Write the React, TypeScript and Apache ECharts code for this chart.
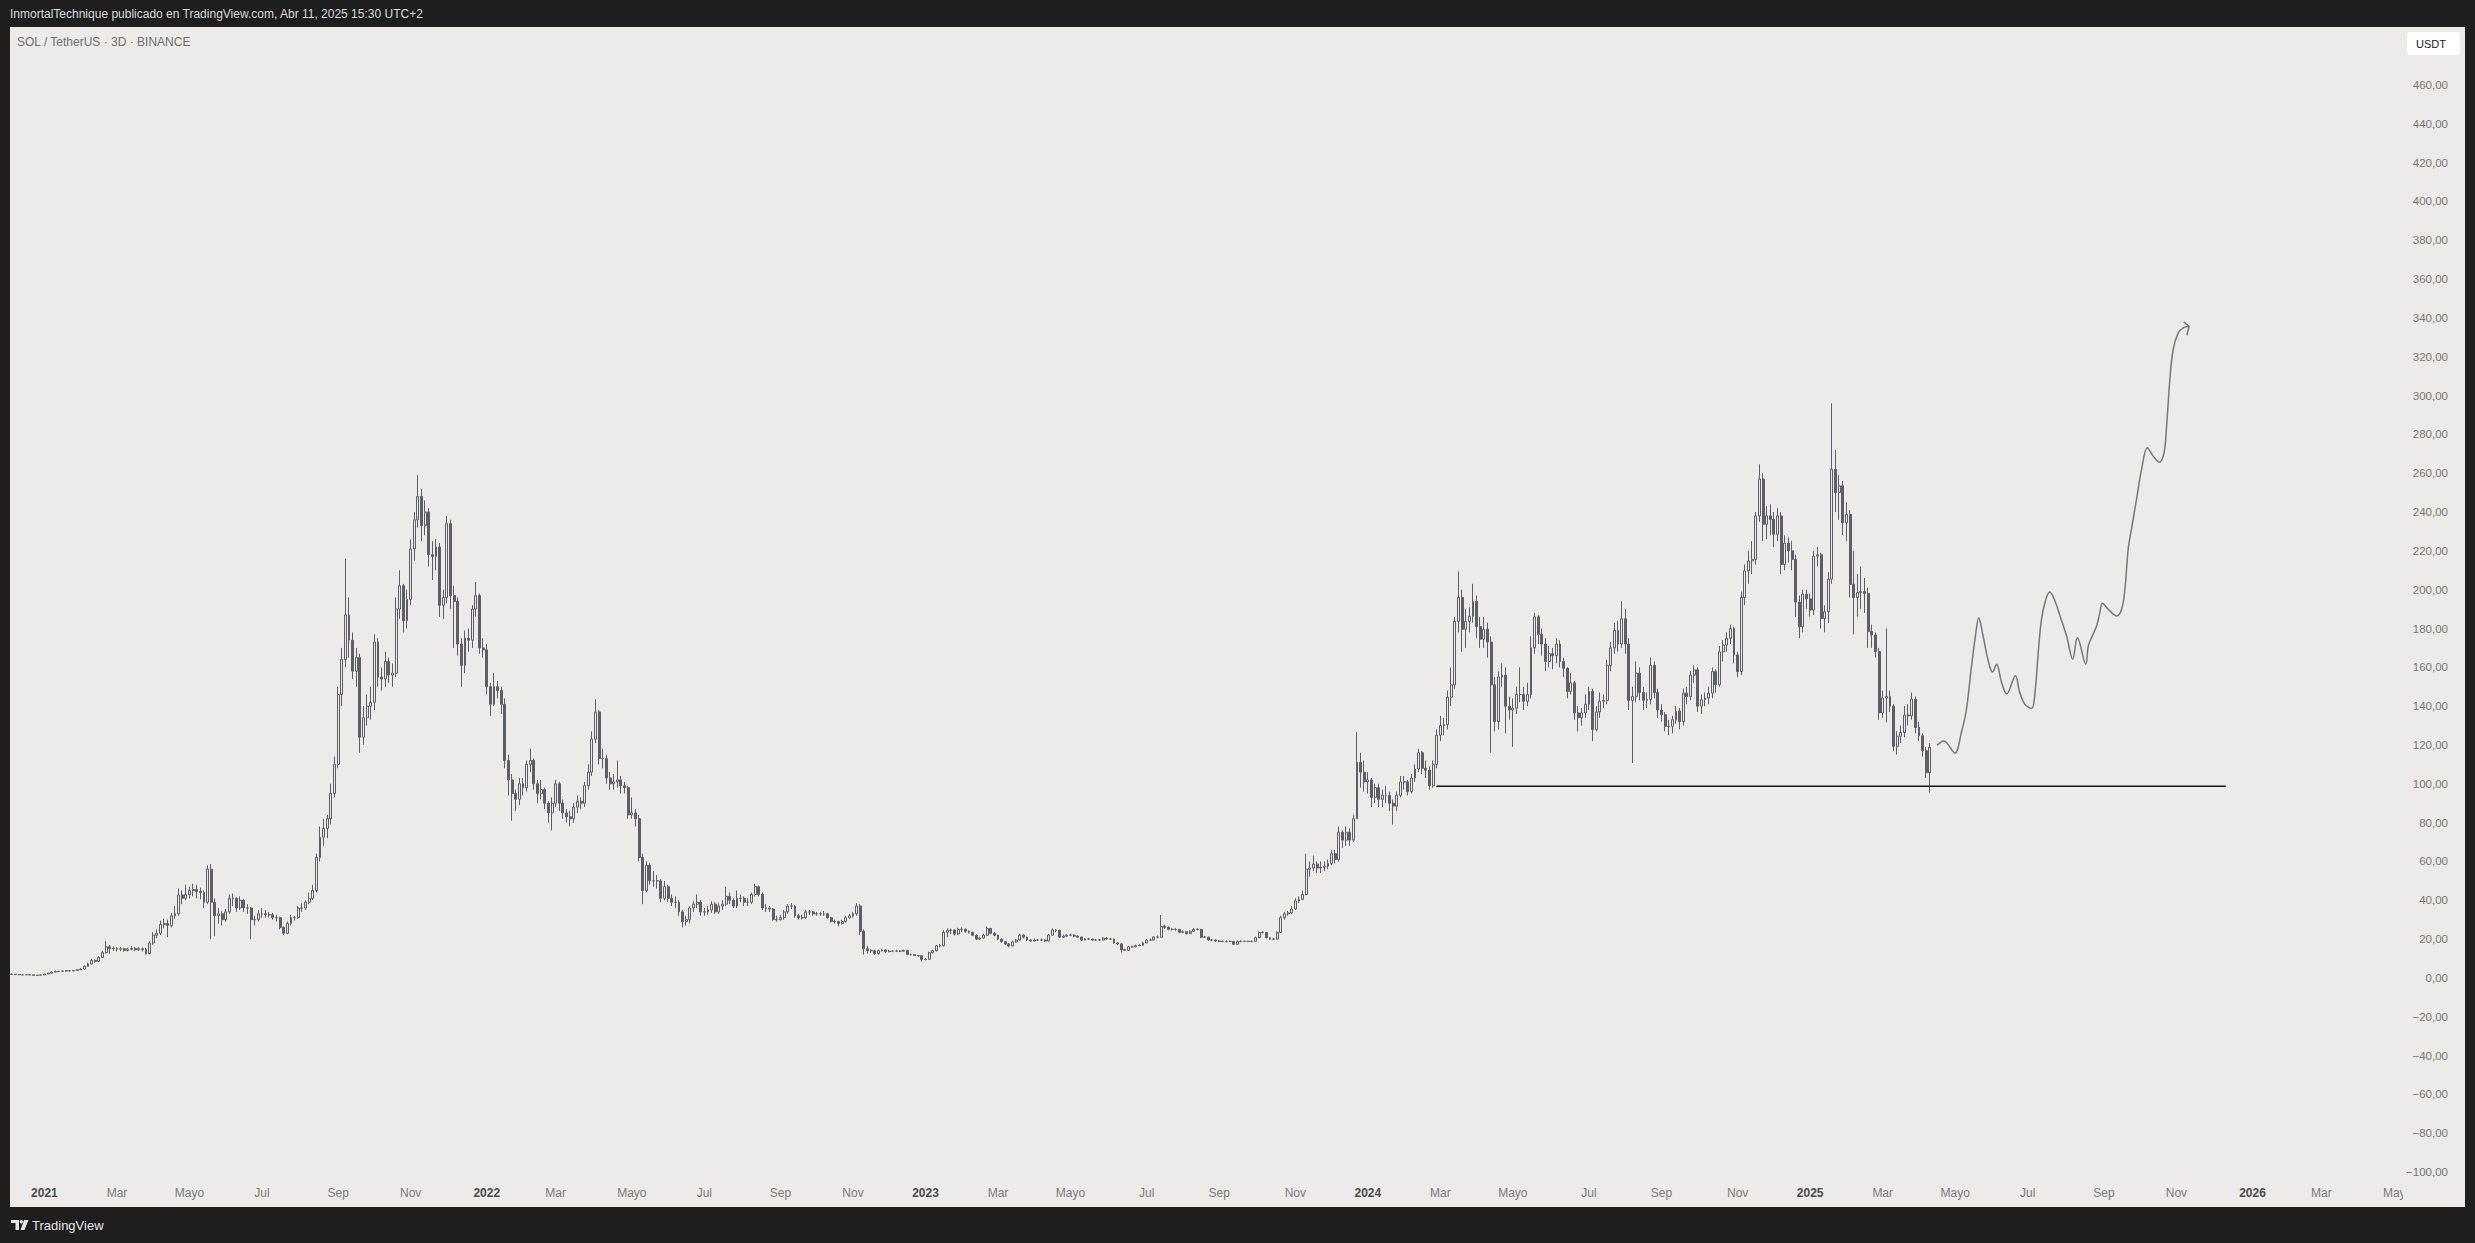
import React, { useEffect, useRef } from 'react';
import * as echarts from 'echarts';

const W = 2475;
const H = 1243;
const PANEL = '#ECEBE9';
const DARK = '#1E1E1E';
const CANDLE = '#5D5E66';
const FONT = '"Liberation Sans", Arial, sans-serif';

// 3-day candles, first one starting 2020-12-04
const START = Date.UTC(2020, 11, 4);
const STEP_DAYS = 3;
const CATEGORY_COUNT = 660;
const FIRST_OPEN = 2.0;

const closes = [
  1.9, 1.7, 1.6, 1.6, 1.65, 1.55, 1.3, 1.4, 1.5, 2.0,
  2.4, 3.0, 3.3, 3.4, 3.5, 3.7, 3.6, 3.8, 4.2, 4.5,
  6.0, 7.2, 9.0, 8.5, 10.5, 13.0, 16.0, 15.0, 15.2, 14.8,
  15.0, 14.2, 14.8, 15.2, 14.5, 15.0, 14.6, 12.5, 18.0, 22.0,
  23.0, 27.5, 28.0, 27.0, 32.0, 33.0, 42.7, 41.0, 43.0, 45.0,
  45.5, 44.5, 44.0, 39.0, 56.0, 39.0, 32.0, 33.0, 30.0, 34.0,
  41.0, 41.0, 36.0, 40.0, 36.0, 36.0, 30.0, 30.0, 33.0, 33.0,
  32.5, 32.5, 31.0, 31.0, 26.0, 23.0, 28.0, 31.0, 31.0, 36.0,
  36.0, 39.0, 41.0, 45.0, 62.0, 72.5, 77.0, 82.0, 95.0, 110.0,
  146, 164, 187, 174, 158, 165, 124, 134, 140, 142,
  173, 155, 154, 163, 156, 157, 190, 202, 184, 195,
  221, 236, 248, 233, 240, 218, 217, 222, 192, 196,
  234, 197, 194, 172, 161, 175, 174, 190, 197, 170,
  169, 150, 141, 150, 148, 141, 112, 102, 95, 92,
  100, 98, 110, 112, 100, 95, 97, 90, 85, 90,
  100, 90, 85, 83, 82, 88, 91, 90, 99, 106,
  123, 137, 113, 113, 103, 100, 101, 102, 99, 98,
  84, 85, 82, 62, 45, 58, 50, 50, 50, 41,
  47, 41, 39, 39, 34, 29, 30, 36, 38, 39,
  34, 34, 35, 38, 34, 37, 38, 42, 40, 37,
  41, 41, 39, 39, 43, 47, 43, 36, 36, 35.5,
  30, 30, 31, 34, 37, 37, 32, 31, 31, 34,
  34, 33, 33, 33, 33, 31, 29, 29, 28, 29,
  31, 32, 33, 37, 24, 15, 14, 14, 12.5, 14,
  14.4, 13.5, 13.8, 13.8, 13.8, 13.8, 14.2, 12, 12, 11.6,
  11.4, 9.5, 9.6, 13, 14, 16.5, 16.6, 23.5, 24.5, 24.7,
  22.6, 25, 25, 24, 23.5, 22, 20, 20.5, 22, 25.5,
  23, 22, 20, 18.7, 17.5, 16.5, 18.5, 19.5, 22, 21,
  19.5, 19, 19.5, 19.5, 19.5, 19, 22, 24.7, 24.5, 21,
  21.5, 22, 22, 21.5, 21, 19.5, 20, 20, 19.5, 19.5,
  19.5, 20.5, 20, 20, 18, 17.5, 14.5, 14.2, 16, 16,
  16.6, 16.8, 18, 19.5, 19.5, 21, 21, 26.5, 26, 25,
  25, 25, 23.5, 23.8, 22.8, 24, 25, 25, 21, 21,
  19.5, 19.5, 19, 18.8, 18.8, 18.8, 18.8, 17.3, 18.7, 18.8,
  18.8, 18.8, 18.8, 20.7, 23.4, 23.4, 20.7, 20, 20, 23.4,
  31, 33, 33.5, 35.5, 39.6, 40.5, 43, 56, 56.6, 58.6,
  56.6, 57, 57.6, 59, 64, 61, 75, 71, 75, 71,
  82, 111, 106, 101, 102, 93, 98, 92, 94, 94,
  90, 88.5, 94, 101, 101, 96, 103, 107.6, 116, 108,
  107, 99, 110, 125, 130, 130.5, 144.6, 151, 183.7, 196,
  179.6, 183.7, 186.3, 194, 181, 174.5, 179.6, 173, 151, 132,
  155, 156, 140, 138, 139, 146, 146, 142.5, 146, 170,
  186, 177, 172, 163, 167, 166, 172, 163, 159.5, 147.6,
  152, 136.5, 134, 136.5, 141, 147.6, 128, 137, 142.5, 143,
  161, 170, 179, 172, 185, 172, 143, 145, 157, 147,
  143, 143.5, 161, 147, 138, 135.6, 129.6, 129.6, 133, 137.4,
  132, 146.7, 145, 156, 158.7, 140, 143.3, 144.2, 146.7, 157.8,
  151, 168, 171.5, 175, 180, 166.4, 157.8, 196, 209.7, 214.8,
  215.6, 238, 257, 233.7, 238, 236.2, 228.6, 238, 213, 224,
  220, 215.6, 193.6, 180.9, 197.7, 195.3, 189.5, 217.3, 218, 185.2,
  188.6, 205.4, 262, 250, 253.5, 234.5, 238.8, 202.8, 196, 198.5,
  199, 198, 178.4, 176.7, 168.1, 136.5, 144.2, 145, 140, 119.3,
  124.5, 126.4, 135.4, 135, 143.6, 129, 124.7, 117, 105.8, 118.7,
];

const highs = [
  2.2, 2.0, 1.8, 1.75, 1.8, 1.7, 1.6, 1.5, 1.6, 2.1,
  2.6, 3.4, 3.8, 3.6, 3.8, 4.0, 3.9, 4.1, 4.5, 4.9,
  6.5, 7.9, 9.9, 9.6, 11.2, 14.0, 19.0, 17.0, 16.2, 15.8,
  16.0, 15.6, 15.5, 16.4, 15.8, 16.0, 15.6, 15.5, 19.0, 23.5,
  25, 29.5, 30.5, 30, 33.5, 37, 46, 45, 48, 47,
  48.5, 48, 46.5, 45, 58, 58.7, 41, 36, 34.5, 35.5,
  43, 43.5, 41.5, 42, 40.5, 38, 36.5, 32, 35, 36,
  35, 34, 33.5, 32.5, 31.5, 26.5, 29, 32.5, 32, 37,
  38.5, 40, 44, 48, 64, 78, 82, 84, 100, 114,
  150, 170, 216, 196, 178, 170, 167, 140, 146, 150,
  177, 175, 160, 168, 165, 162, 196, 210, 203, 200,
  226, 240, 259, 252, 246, 242, 225, 226, 224, 200,
  238, 236, 202, 196, 175, 179, 180, 192, 204, 198,
  175, 172, 152, 157, 153, 150, 144, 115, 105, 97,
  103, 103, 112, 118, 113, 102, 102, 98, 91, 93,
  102, 101, 92, 87, 86, 90, 94, 93, 101, 110,
  127, 143.6, 138, 118, 115, 106, 105, 112, 104, 101,
  99, 93, 87, 84, 64, 60, 59, 55, 53, 51,
  50, 48, 43, 42, 40, 35, 32, 37, 39.5, 43,
  40, 36, 37, 39.5, 39, 38.5, 40, 47, 44, 41,
  45, 43, 42, 41, 44, 48.5, 47.5, 44, 38, 37,
  36, 32, 32.5, 35, 38, 38.5, 37.5, 33, 32.5, 35,
  35, 34.5, 34, 34, 34.5, 33.5, 31.5, 30, 29.5, 30,
  32, 33, 34, 38.5, 38, 25, 16.5, 14.8, 14.5, 14.5,
  15, 14.8, 14.4, 14.2, 14.5, 14.2, 14.6, 14.4, 12.5, 12.2,
  11.8, 11.5, 10.2, 13.5, 14.5, 17, 17.5, 24.5, 25.5, 25.5,
  25, 25.8, 26, 25.5, 24.5, 23.8, 22.5, 21.2, 22.8, 26.5,
  25.8, 23.5, 22.3, 20.3, 19, 18, 19.2, 20, 22.8, 22.5,
  21.3, 20, 20.2, 20, 20.3, 19.8, 22.6, 25.5, 25.2, 24.8,
  22.3, 22.6, 22.8, 22.4, 22, 21.3, 20.5, 20.6, 20.3, 20,
  20, 21, 20.9, 20.6, 20.2, 18.4, 17.8, 15, 16.5, 16.6,
  17.2, 17.4, 18.6, 20, 20.3, 21.6, 21.8, 32.4, 27.5, 26.6,
  25.8, 25.6, 25.2, 24.4, 24, 24.6, 25.6, 25.5, 25.2, 21.6,
  21.2, 20, 19.8, 19.4, 19.3, 19.3, 19.2, 19, 19.2, 19.4,
  19.3, 19.2, 19.3, 21.3, 24, 24.2, 23.6, 21, 20.6, 24,
  32, 34, 34.5, 37, 41, 42, 45, 64, 60, 63,
  60, 60, 60, 61, 66, 66, 78, 76, 78, 77,
  84, 126.6, 116, 112, 106, 103, 100, 100, 97, 99,
  96, 92, 96, 104, 104, 102, 105, 110, 118, 117,
  112, 109, 112, 128, 135, 134, 148, 160, 186, 209.5,
  200, 190, 191, 203, 197, 186, 186, 183, 176, 155,
  158, 162, 160, 145, 144, 150, 160, 150, 152, 176,
  188, 187, 180, 175, 171, 170, 175, 174, 165, 160,
  157, 153, 140, 139, 146, 150, 149, 140, 147, 146,
  164, 173, 183, 184, 194, 190, 175, 150, 163, 160,
  150, 147, 165, 163, 149, 141, 137, 133, 135, 140,
  139, 149, 150, 158, 161, 160, 146, 147, 150, 160,
  159, 171, 174, 178, 182, 181, 168, 199, 213, 220,
  225, 240, 264.6, 260, 243, 244, 240, 242, 240, 228,
  227, 225, 218, 197, 200, 200, 198, 220, 222, 219,
  192, 209, 296, 272, 259, 256, 245, 241, 220, 208,
  212, 206, 201, 182, 178, 170, 148, 180, 148, 141,
  127, 130, 140, 141, 147, 145, 132, 126, 119, 121,
];

const lows = [
  1.7, 1.6, 1.5, 1.5, 1.55, 1.45, 1.2, 1.25, 1.35, 1.45,
  1.9, 2.3, 2.9, 3.0, 3.1, 3.3, 3.3, 3.4, 3.7, 4.0,
  4.3, 5.8, 7.0, 7.8, 8.2, 10.2, 12.5, 12.5, 14.0, 13.6,
  13.8, 13.5, 13.6, 14.2, 13.8, 14.0, 13.6, 12.0, 12.2, 17.0,
  20.5, 22, 25.5, 21, 26, 30.5, 32, 38, 40, 41,
  42, 41, 40.5, 36, 38, 20, 21.5, 28, 27, 29,
  33, 37, 34, 35, 34, 33, 20, 27, 29, 31,
  31, 31, 30, 29, 25, 22, 22.5, 27, 29.5, 30.5,
  34, 35, 38, 40, 44, 60, 68, 72, 79, 93,
  108, 140, 160, 165, 154, 150, 116, 120, 130, 133,
  138, 150, 148, 150, 152, 150, 155, 185, 178, 180,
  192, 215, 232, 225, 228, 212, 205, 210, 186, 185,
  193, 190, 170, 166, 150, 157, 168, 170, 186, 167,
  165, 146, 135, 140, 144, 136, 108, 94, 81, 86,
  89, 94, 96, 106, 97, 90, 92, 87, 80, 76,
  88, 86, 82, 80, 78, 80, 85, 87, 88, 97,
  104, 121, 110, 108, 100, 97, 97, 98, 95, 95,
  82, 82, 78, 60, 38, 44, 48, 47, 46, 39,
  40, 39, 37, 36, 32, 26, 27, 28, 34, 36,
  32, 32, 32.5, 33.5, 33, 33, 35, 37, 38, 36,
  36, 39, 37, 37, 38, 42, 42, 35, 34, 34,
  29.5, 29, 29.5, 30, 33, 35.5, 31, 30, 30, 30.5,
  32.5, 32, 32, 32, 32, 30.5, 28.5, 28, 26.5, 27.5,
  28.5, 30.5, 31, 32, 22, 12, 12.5, 12.8, 11.8, 12,
  13.5, 13, 13.2, 13.3, 13.3, 13.3, 13.5, 11.8, 11.5, 11.2,
  10.9, 8.4, 9.0, 9.4, 12.6, 13.6, 15.8, 16.2, 21, 22.5,
  21.8, 22.2, 23.5, 23.2, 22.8, 21.5, 19.5, 19.6, 20.2, 21.6,
  22.5, 21.5, 19.5, 18.2, 16.8, 15.7, 16.2, 18.2, 19.2, 20.4,
  19, 18.6, 18.8, 19, 19, 18.5, 18.8, 21.8, 23.5, 20.5,
  20.6, 21.2, 21.5, 21, 20.6, 19, 19.2, 19.5, 19.1, 19,
  19.1, 19.3, 19.6, 19.5, 17.6, 17, 13, 13.8, 14, 15.5,
  15.8, 16.3, 16.6, 17.8, 19, 19.3, 20.4, 20.8, 25.2, 24.5,
  24.4, 24.3, 23, 23.1, 22.3, 22.6, 23.8, 24.4, 20.5, 20.6,
  19.2, 19, 18.6, 18.4, 18.4, 18.3, 18.4, 17, 17.1, 18.4,
  18.4, 18.4, 18.4, 18.6, 20.5, 22.8, 20.3, 19.6, 19.6, 19.8,
  23.2, 30, 32, 32.8, 35, 38.5, 40, 42.5, 52, 55,
  54, 54, 55, 56, 58, 59, 60, 67, 68, 68,
  70, 82, 98, 96, 95, 88, 90, 88, 88, 90,
  86, 79, 86, 93, 97, 94, 95, 101, 106, 105,
  103, 97, 98, 108, 122, 125, 128, 140, 149, 178,
  168, 170, 178, 183, 175, 170, 170, 165, 116, 127,
  128, 150, 126, 133, 119, 136, 142, 138, 140, 144,
  167, 172, 166, 158, 160, 159, 162, 160, 155, 144,
  146, 133, 127, 130, 134, 138, 122, 127, 134, 139,
  141, 158, 167, 168, 170, 167, 138, 110.7, 142, 143,
  138, 139, 141, 144, 134, 132, 127, 125, 126, 131,
  128, 130, 141, 143, 152, 137, 136, 140, 141, 144,
  147, 150, 163, 168, 172, 162, 155, 156, 192, 203,
  208, 213, 235, 225, 226, 228, 222, 225, 208, 210,
  214, 210, 186, 175, 178, 190, 186, 187, 212, 180,
  178, 183, 203, 240, 236, 228, 225, 196, 177, 186,
  190, 188, 170, 170, 165, 133, 134, 131.6, 137, 117,
  115, 121, 124, 130, 133, 126, 122, 114, 103, 95.5,
];

// Hand-drawn projection (x in candle-index units, y in USDT)
const projX = [531.0, 532.9, 535.9, 537.7, 539.1, 540.5, 541.7, 542.5, 543.5, 544.6, 545.6, 546.3, 547.4, 548.8, 550.2, 552.6, 553.8, 555.2, 557.1, 558.0, 558.9, 559.8, 561.0, 562.1, 563.5, 564.9, 566.7, 568.4, 569.7, 572.0, 572.7, 573.6, 575.0, 575.9, 576.6, 578.2, 580.5, 581.9, 582.8, 583.7, 584.6, 586.0, 587.4, 589.0, 590.6, 592.3, 593.6, 594.3, 595.2, 596.1, 597.5, 598.9, 600.5];
const projY = [119.9, 122.1, 115.8, 126.4, 138.4, 160.7, 177.9, 185.6, 177.9, 167.6, 159.9, 157.6, 161.6, 152.2, 146.2, 155.6, 147.0, 141.0, 138.8, 147.0, 167.6, 184.8, 195.1, 198.8, 194.2, 186.5, 176.2, 164.2, 175.3, 161.6, 171.0, 175.3, 181.3, 188.2, 193.0, 189.9, 186.5, 189.9, 200.2, 220.8, 231.1, 246.5, 262.0, 273.1, 268.8, 265.7, 270.6, 284.3, 308.3, 323.7, 332.3, 334.9, 335.7];
const arrowX = [599.0, 600.5, 599.9];
const arrowY = [338.0, 335.7, 331.0];

const SUPPORT_LEVEL = 98.7;
const SUPPORT_FROM = 392.9;
const SUPPORT_TO = 610.6;

const Y_MIN = -100;
const Y_MAX = 460;
const Y_STEP = 20;

const MONTH_LABELS = ['YEAR', '', 'Mar', '', 'Mayo', '', 'Jul', '', 'Sep', '', 'Nov', ''];

const HEADER = 'InmortalTechnique publicado en TradingView.com, Abr 11, 2025 15:30 UTC+2';
const LEGEND = 'SOL / TetherUS · 3D · BINANCE';

function buildOption() {
  const DAY = 86400000;
  const categories: string[] = [];
  const xLabels: Record<number, string> = {};
  for (let i = 0; i < CATEGORY_COUNT; i++) {
    const d = new Date(START + i * STEP_DAYS * DAY);
    const d2 = new Date(START + (i * STEP_DAYS + 2) * DAY);
    categories.push(d.toISOString().slice(0, 10));
    let m = -1;
    let y = 0;
    if (d.getUTCDate() === 1) {
      m = d.getUTCMonth();
      y = d.getUTCFullYear();
    } else if (d2.getUTCMonth() !== d.getUTCMonth()) {
      m = d2.getUTCMonth();
      y = d2.getUTCFullYear();
    }
    if (m >= 0 && MONTH_LABELS[m]) {
      xLabels[i] = m === 0 ? `{y|${y}}` : MONTH_LABELS[m];
    }
  }

  const ohlc = closes.map((c, i) => {
    const o = i === 0 ? FIRST_OPEN : closes[i - 1];
    const h = Math.max(highs[i], o, c);
    const l = Math.min(lows[i], o, c);
    return [o, c, l, h];
  });

  const proj = projX.map((x, i) => [x, projY[i]]);
  const arrow = arrowX.map((x, i) => [x, arrowY[i]]);

  const fmtPrice = (v: number) =>
    (v < 0 ? '\u2212' : '') + Math.abs(v).toFixed(2).replace('.', ',');

  return {
    animation: false,
    backgroundColor: 'transparent',
    textStyle: { fontFamily: FONT },
    grid: {
      left: 10,
      right: W - 2403,
      top: 85,
      bottom: H - 1172,
      containLabel: false,
      outerBoundsMode: 'none',
    },
    xAxis: [
      {
        type: 'category',
        data: categories,
        boundaryGap: true,
        z: 1,
        axisLine: { show: false },
        axisTick: { show: false },
        splitLine: { show: false },
        axisLabel: {
          interval: (index: number) => xLabels[index] !== undefined,
          formatter: (_v: string, index: number) => xLabels[index] || '',
          margin: 15,
          fontSize: 12,
          color: '#7A7A7A',
          fontFamily: FONT,
          rich: {
            y: { fontSize: 12, fontWeight: 'bold', color: '#4A4A4A', fontFamily: FONT },
          },
        },
      },
      {
        type: 'value',
        min: -0.5,
        max: CATEGORY_COUNT - 0.5,
        show: false,
      },
    ],
    yAxis: {
      type: 'value',
      position: 'right',
      min: Y_MIN,
      max: Y_MAX,
      interval: Y_STEP,
      z: 20,
      axisLine: { show: false },
      axisTick: { show: false },
      splitLine: { show: false },
      axisLabel: {
        margin: 45,
        align: 'right',
        fontSize: 11.5,
        color: '#767676',
        fontFamily: FONT,
        formatter: fmtPrice,
      },
    },
    series: [
      {
        type: 'candlestick',
        xAxisIndex: 0,
        data: ohlc,
        large: false,
        barWidth: 2.4,
        itemStyle: {
          color: PANEL,
          color0: CANDLE,
          borderColor: CANDLE,
          borderColor0: CANDLE,
          borderColorDoji: CANDLE,
          borderWidth: 1,
        },
      },
      {
        type: 'line',
        xAxisIndex: 1,
        data: [[SUPPORT_FROM, SUPPORT_LEVEL], [SUPPORT_TO, SUPPORT_LEVEL]],
        symbol: 'none',
        lineStyle: { color: '#151515', width: 1.6 },
        z: 4,
      },
      {
        type: 'line',
        xAxisIndex: 1,
        data: proj,
        smooth: 0.35,
        symbol: 'none',
        lineStyle: { color: '#76777C', width: 1.5 },
        z: 4,
      },
      {
        type: 'line',
        xAxisIndex: 1,
        data: arrow,
        symbol: 'none',
        lineStyle: { color: '#76777C', width: 1.5 },
        z: 4,
      },
    ],
    graphic: [
      {
        type: 'text',
        x: 10,
        y: 14,
        style: { text: HEADER, fill: '#DADADA', fontSize: 12, fontFamily: FONT, verticalAlign: 'middle', align: 'left' },
      },
      {
        type: 'text',
        x: 17,
        y: 42,
        style: { text: LEGEND, fill: '#6E6E6E', fontSize: 12, fontFamily: FONT, verticalAlign: 'middle', align: 'left' },
      },
      {
        type: 'rect',
        shape: { x: 2407, y: 32, width: 53, height: 23, r: 3 },
        style: { fill: '#FFFFFF' },
        z: 30,
      },
      {
        type: 'text',
        x: 2431,
        y: 44,
        z: 31,
        style: { text: 'USDT', fill: '#131722', fontSize: 11, fontFamily: FONT, verticalAlign: 'middle', align: 'center' },
      },
      {
        type: 'rect',
        shape: { x: 2403, y: 1182, width: 62, height: 24 },
        style: { fill: PANEL },
        z: 100,
      },
      {
        type: 'polygon',
        shape: { points: [[11, 1220], [19, 1220], [19, 1230], [15.5, 1230], [15.5, 1223], [11, 1223]] },
        style: { fill: '#E6E6E6' },
      },
      {
        type: 'circle',
        shape: { cx: 21.3, cy: 1221.8, r: 1.7 },
        style: { fill: '#E6E6E6' },
      },
      {
        type: 'polygon',
        shape: { points: [[24, 1220], [28.5, 1220], [24.5, 1230], [20.5, 1230]] },
        style: { fill: '#E6E6E6' },
      },
      {
        type: 'text',
        x: 32,
        y: 1225,
        style: { text: 'TradingView', fill: '#E6E6E6', fontSize: 13, fontFamily: FONT, verticalAlign: 'middle', align: 'left' },
      },
    ],
  };
}

export default function App() {
  const ref = useRef<HTMLDivElement>(null);
  useEffect(() => {
    document.body.style.margin = '0';
    const chart = echarts.init(ref.current as HTMLDivElement, null, { renderer: 'svg', width: W, height: H });
    chart.setOption(buildOption() as any);
    return () => {
      chart.dispose();
    };
  }, []);
  return (
    <div style={{ position: 'fixed', left: 0, top: 0, width: W, height: H, background: DARK, overflow: 'hidden' }}>
      <div style={{ position: 'absolute', left: 10, top: 27, width: 2455, height: 1180, background: PANEL }} />
      <div ref={ref} style={{ position: 'absolute', left: 0, top: 0, width: W, height: H }} />
    </div>
  );
}
